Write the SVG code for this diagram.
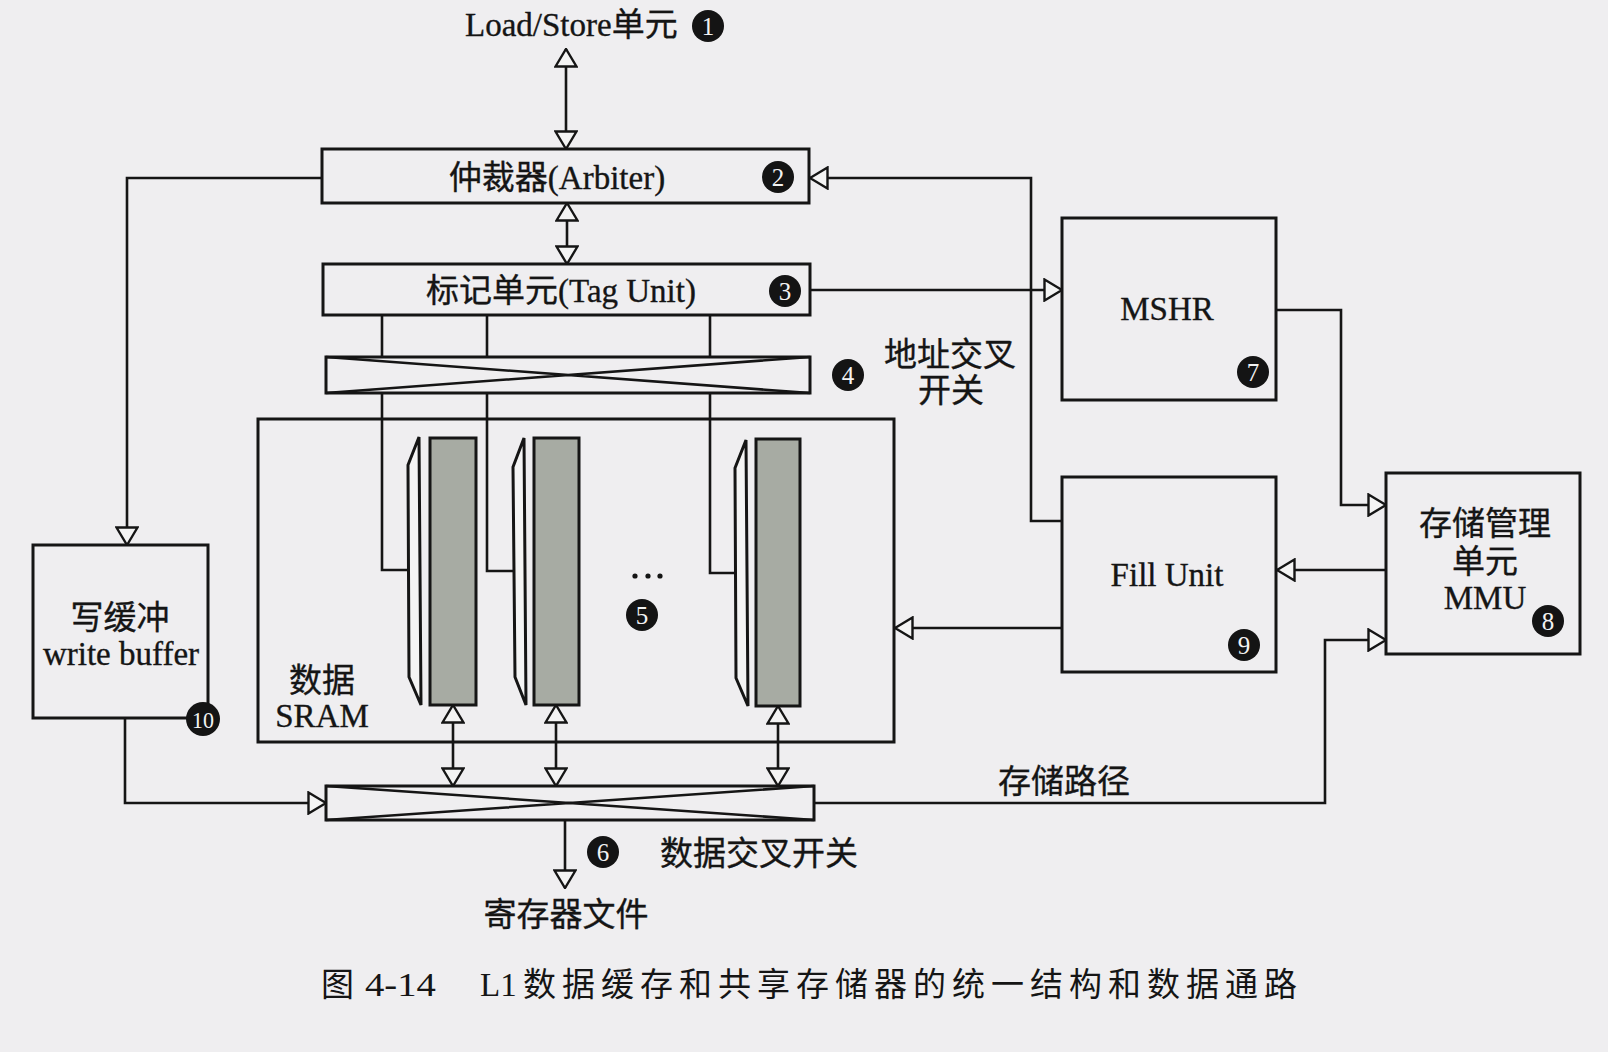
<svg xmlns="http://www.w3.org/2000/svg" width="1608" height="1052" viewBox="0 0 1608 1052">
<style>
.bg{fill:#efeef0}
.box{fill:none;stroke:#151515;stroke-width:3}
.ln{fill:none;stroke:#151515;stroke-width:2.6}
.arr{fill:none;stroke:#151515;stroke-width:2.6;marker-end:url(#tri)}
.dbl{fill:none;stroke:#151515;stroke-width:2.6;marker-start:url(#tri);marker-end:url(#tri)}
.bank{fill:#a7aba3;stroke:#151515;stroke-width:3}
.mux{fill:#f4f4f4;stroke:#151515;stroke-width:3;stroke-linejoin:miter}
.t{font-family:"Liberation Serif","Noto Sans CJK SC",serif;font-size:33px;fill:#151515;stroke:#151515;stroke-width:0.35;text-anchor:middle}
.cap{font-family:"Liberation Serif","Noto Sans CJK SC",serif;font-size:33px;fill:#151515;stroke:#151515;stroke-width:0.35}
.bd{fill:#141414}
.bn{font-family:"Liberation Serif",serif;font-size:25px;fill:#f2f2f2;text-anchor:middle}
</style>
<defs>
<marker id="tri" viewBox="0 0 20 24" refX="19" refY="12" markerWidth="20" markerHeight="24" markerUnits="userSpaceOnUse" orient="auto-start-reverse">
<path d="M1.5,1.5 L19,12 L1.5,22.5 Z" fill="#f4f4f4" stroke="#151515" stroke-width="2.4"/>
</marker>
</defs>
<rect class="bg" x="0" y="0" width="1608" height="1052"/>

<g id="connectors">
<line class="dbl" x1="566" y1="49" x2="566" y2="149"/>
<line class="dbl" x1="567" y1="203" x2="567" y2="264"/>
<path class="arr" d="M322,178 H127 V545"/>
<path class="arr" d="M810,290 H1062"/>
<path class="arr" d="M1062,521 H1031 V178 H810"/>
<path class="ln" d="M382,315 V357 M382,393 V570 H408"/>
<path class="ln" d="M487,315 V357 M487,393 V571 H513"/>
<path class="ln" d="M710,315 V357 M710,393 V573 H735"/>
<line class="dbl" x1="453" y1="705" x2="453" y2="786"/>
<line class="dbl" x1="556" y1="705" x2="556" y2="786"/>
<line class="dbl" x1="778" y1="706" x2="778" y2="786"/>
<path class="arr" d="M125,718 V803 H326"/>
<path class="arr" d="M565,820 V888"/>
<path class="arr" d="M814,803 H1325 V640 H1386"/>
<path class="arr" d="M1276,310 H1341 V505 H1386"/>
<path class="arr" d="M1386,570 H1277"/>
<path class="arr" d="M1062,628 H895"/>
</g>

<g id="loadstore">
<text class="cap" x="465" y="36">Load/Store单元</text>
<circle class="bd" cx="708" cy="26" r="16"/><text class="bn" x="708" y="35">1</text>
</g>

<g id="arbiter">
<rect class="box" x="322" y="149" width="487" height="54"/>
<text class="t" x="557" y="189">仲裁器(Arbiter)</text>
<circle class="bd" cx="778" cy="177" r="16"/><text class="bn" x="778" y="186">2</text>
</g>

<g id="tagunit">
<rect class="box" x="323" y="264" width="487" height="51"/>
<text class="t" x="561" y="302">标记单元(Tag Unit)</text>
<circle class="bd" cx="785" cy="291" r="16"/><text class="bn" x="785" y="300">3</text>
</g>

<g id="addr-crossbar">
<rect class="box" x="326" y="357" width="484" height="36"/>
<path class="ln" d="M326,357 L810,393 M326,393 L810,357"/>
<circle class="bd" cx="848" cy="375" r="16"/><text class="bn" x="848" y="384">4</text>
<text class="t" x="950" y="366">地址交叉</text>
<text class="t" x="951" y="402">开关</text>
</g>

<g id="sram">
<rect class="box" x="258" y="419" width="636" height="323"/>
<polygon class="mux" points="408,465 419,437 421,705 409,677"/>
<rect class="bank" x="430" y="438" width="46" height="267"/>
<polygon class="mux" points="513,467 524,438 526,705 515,677"/>
<rect class="bank" x="534" y="438" width="45" height="267"/>
<polygon class="mux" points="735,468 746,440 748,706 736,678"/>
<rect class="bank" x="756" y="439" width="44" height="267"/>
<circle class="bd" cx="635" cy="576" r="2.6"/><circle class="bd" cx="648" cy="576" r="2.6"/><circle class="bd" cx="660" cy="576" r="2.6"/>
<circle class="bd" cx="642" cy="615" r="16"/><text class="bn" x="642" y="624">5</text>
<text class="t" x="322" y="692">数据</text>
<text class="t" x="322" y="727">SRAM</text>
</g>

<g id="data-crossbar">
<rect class="box" x="326" y="786" width="488" height="34"/>
<path class="ln" d="M326,786 L814,820 M326,820 L814,786"/>
<circle class="bd" cx="603" cy="852" r="16"/><text class="bn" x="603" y="861">6</text>
<text class="t" x="759" y="865">数据交叉开关</text>
<text class="t" x="1064" y="793">存储路径</text>
</g>

<g id="regfile">
<text class="t" x="566" y="926">寄存器文件</text>
</g>

<g id="writebuffer">
<rect class="box" x="33" y="545" width="175" height="173"/>
<text class="t" x="120" y="629">写缓冲</text>
<text class="t" x="121" y="665">write buffer</text>
<circle class="bd" cx="203" cy="719" r="17"/><text class="bn" x="203" y="728" style="font-size:23px" textLength="22" lengthAdjust="spacingAndGlyphs">10</text>
</g>

<g id="mshr">
<rect class="box" x="1062" y="218" width="214" height="182"/>
<text class="t" x="1167" y="320">MSHR</text>
<circle class="bd" cx="1253" cy="372" r="16"/><text class="bn" x="1253" y="381">7</text>
</g>

<g id="fillunit">
<rect class="box" x="1062" y="477" width="214" height="195"/>
<text class="t" x="1167" y="586">Fill Unit</text>
<circle class="bd" cx="1244" cy="645" r="16"/><text class="bn" x="1244" y="654">9</text>
</g>

<g id="mmu">
<rect class="box" x="1386" y="473" width="194" height="181"/>
<text class="t" x="1485" y="535">存储管理</text>
<text class="t" x="1485" y="573">单元</text>
<text class="t" x="1485" y="609">MMU</text>
<circle class="bd" cx="1548" cy="621" r="16"/><text class="bn" x="1548" y="630">8</text>
</g>

<g id="caption">
<text class="cap" x="321" y="996" style="stroke-width:0">图</text>
<text class="cap" x="365" y="996" style="stroke-width:0" textLength="71" lengthAdjust="spacingAndGlyphs">4-14</text>
<text class="cap" x="480" y="996" style="stroke-width:0">L1</text>
<text class="cap" x="523" y="996" style="stroke-width:0" textLength="774" lengthAdjust="spacing">数据缓存和共享存储器的统一结构和数据通路</text>
</g>
</svg>
